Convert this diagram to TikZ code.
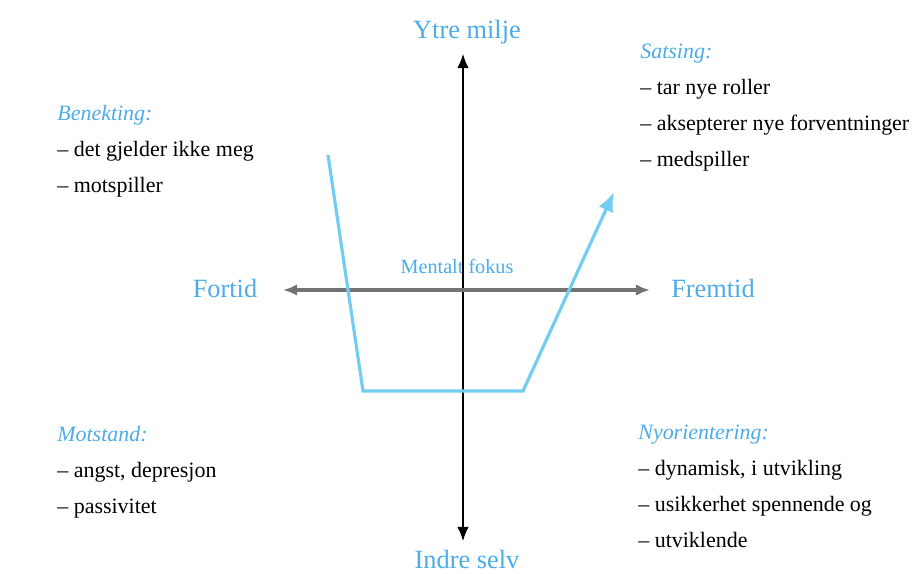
\documentclass[tikz,border=0pt]{standalone}
\usepackage{fontspec}
\setmainfont{Liberation Serif}
\usetikzlibrary{arrows.meta}
\definecolor{fokusblue}{RGB}{75,172,232}
\definecolor{linjeblue}{RGB}{115,205,240}

\begin{document}
\begin{tikzpicture}[x=0.02cm,y=-0.02cm,>={Latex[length=8pt,width=6.5pt]},
    axis label/.style={text=fokusblue,font=\fontsize{15}{18}\selectfont},
    phase/.style={anchor=north west,align=left,inner sep=0pt,
      font=\fontsize{12.5}{20.4}\selectfont},
    head/.style={text=fokusblue,font=\itshape}]

\useasboundingbox (0,0) rectangle (921,574);

% axis labels
\node[axis label] (ytre) at (467,32) {Ytre milje};
\node[axis label] (indre) at (467,559) {Indre selv};
\node[axis label] (fortid) at (225,288) {Fortid};
\node[axis label] (fremtid) at (713,288) {Fremtid};
\node[text=fokusblue,font=\fontsize{11.5}{14}\selectfont] (fokus) at (457,266) {Mentalt fokus};

% axes
\coordinate (n) at (463,54);
\coordinate (s) at (463,541);
\coordinate (w) at (283,290);
\coordinate (e) at (650,290);
\draw[<->,line width=0.8pt] (s) -- (n);
\draw[<->,line width=1.8pt,black!55] (w) -- (e);

% phases
\node[phase] (benekting) at (57,105)
  {\textcolor{fokusblue}{\itshape Benekting:}\\– det gjelder ikke meg\\– motspiller};
\node[phase] (satsing) at (640,44)
  {\textcolor{fokusblue}{\itshape Satsing:}\\– tar nye roller\\– aksepterer nye forventninger\\– medspiller};
\node[phase] (motstand) at (57,426)
  {\textcolor{fokusblue}{\itshape Motstand:}\\– angst, depresjon\\– passivitet};
\node[phase] (nyorient) at (638,425)
  {\textcolor{fokusblue}{\itshape Nyorientering:}\\– dynamisk, i utvikling\\– usikkerhet spennende og\\– utviklende};

% change curve
\coordinate (p1) at (328,155);
\coordinate (p2) at (363,391);
\coordinate (p3) at (523,391);
\coordinate (p4) at (614,192);
\draw[->,>={Latex[length=11pt,width=9pt]},linjeblue,line width=1.8pt]
  (p1) -- (p2) -- (p3) -- (p4);

\end{tikzpicture}
\end{document}
